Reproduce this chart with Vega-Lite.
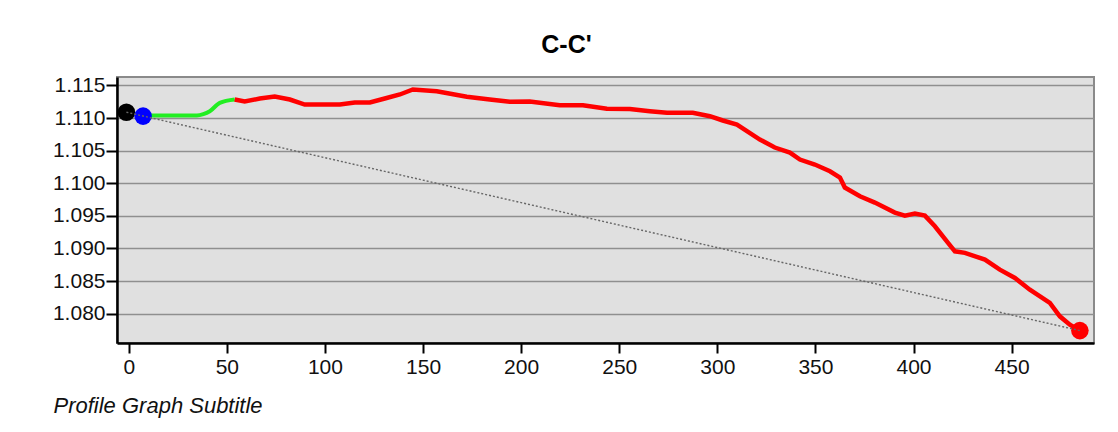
{
  "$schema": "https://vega.github.io/schema/vega-lite/v6.json",
  "autosize": "none",
  "width": 977,
  "height": 266,
  "padding": {"left": 117, "top": 77, "right": 24, "bottom": 89},
  "background": "white",
  "title": {
    "text": "C-C'",
    "font": "Liberation Sans",
    "fontSize": 25,
    "fontWeight": "bold",
    "color": "#000000",
    "anchor": "middle",
    "frame": "group",
    "dx": -39,
    "dy": 25,
    "baseline": "alphabetic",
    "offset": 21
  },
  "config": {
    "view": {"fill": "#E0E0E0", "stroke": "#8a8a8a", "strokeWidth": 2},
    "font": "Liberation Sans"
  },
  "datasets": {
    "profile": [
      {"x": 7.3, "y": 1.1104, "seg": "green"},
      {"x": 20, "y": 1.1104, "seg": "green"},
      {"x": 34.7, "y": 1.1104, "seg": "green"},
      {"x": 38, "y": 1.1106, "seg": "green"},
      {"x": 41.3, "y": 1.11105, "seg": "green"},
      {"x": 46.4, "y": 1.11234, "seg": "green"},
      {"x": 54.0, "y": 1.11285, "seg": "green"},
      {"x": 54.0, "y": 1.11285, "seg": "red"},
      {"x": 59.1, "y": 1.11254, "seg": "red"},
      {"x": 66.8, "y": 1.11300, "seg": "red"},
      {"x": 74.4, "y": 1.11331, "seg": "red"},
      {"x": 82.1, "y": 1.11285, "seg": "red"},
      {"x": 89.7, "y": 1.11208, "seg": "red"},
      {"x": 107.6, "y": 1.11208, "seg": "red"},
      {"x": 115.2, "y": 1.11239, "seg": "red"},
      {"x": 122.9, "y": 1.11239, "seg": "red"},
      {"x": 130.5, "y": 1.11300, "seg": "red"},
      {"x": 138.2, "y": 1.11362, "seg": "red"},
      {"x": 144.8, "y": 1.11439, "seg": "red"},
      {"x": 157.0, "y": 1.11412, "seg": "red"},
      {"x": 172.3, "y": 1.11327, "seg": "red"},
      {"x": 184.0, "y": 1.11285, "seg": "red"},
      {"x": 194.2, "y": 1.11250, "seg": "red"},
      {"x": 204.4, "y": 1.11254, "seg": "red"},
      {"x": 219.7, "y": 1.11198, "seg": "red"},
      {"x": 231.5, "y": 1.11198, "seg": "red"},
      {"x": 243.7, "y": 1.11142, "seg": "red"},
      {"x": 255.4, "y": 1.11139, "seg": "red"},
      {"x": 265.6, "y": 1.11105, "seg": "red"},
      {"x": 274.3, "y": 1.11081, "seg": "red"},
      {"x": 287.5, "y": 1.11081, "seg": "red"},
      {"x": 296.2, "y": 1.11029, "seg": "red"},
      {"x": 302.8, "y": 1.10963, "seg": "red"},
      {"x": 310.0, "y": 1.10901, "seg": "red"},
      {"x": 321.7, "y": 1.10671, "seg": "red"},
      {"x": 329.3, "y": 1.10548, "seg": "red"},
      {"x": 337.0, "y": 1.10471, "seg": "red"},
      {"x": 342.1, "y": 1.10364, "seg": "red"},
      {"x": 349.7, "y": 1.10287, "seg": "red"},
      {"x": 357.4, "y": 1.10184, "seg": "red"},
      {"x": 362.5, "y": 1.10088, "seg": "red"},
      {"x": 365.0, "y": 1.09934, "seg": "red"},
      {"x": 372.7, "y": 1.09801, "seg": "red"},
      {"x": 380.3, "y": 1.09704, "seg": "red"},
      {"x": 390.5, "y": 1.09550, "seg": "red"},
      {"x": 395.6, "y": 1.09504, "seg": "red"},
      {"x": 400.7, "y": 1.09535, "seg": "red"},
      {"x": 405.8, "y": 1.09504, "seg": "red"},
      {"x": 410.9, "y": 1.09340, "seg": "red"},
      {"x": 417.5, "y": 1.09090, "seg": "red"},
      {"x": 421.1, "y": 1.08956, "seg": "red"},
      {"x": 426.2, "y": 1.08932, "seg": "red"},
      {"x": 436.4, "y": 1.08829, "seg": "red"},
      {"x": 444.0, "y": 1.08675, "seg": "red"},
      {"x": 451.7, "y": 1.08548, "seg": "red"},
      {"x": 459.3, "y": 1.08368, "seg": "red"},
      {"x": 469.5, "y": 1.08164, "seg": "red"},
      {"x": 474.6, "y": 1.07959, "seg": "red"},
      {"x": 479.7, "y": 1.07831, "seg": "red"},
      {"x": 484.8, "y": 1.07740, "seg": "red"}
    ],
    "reference": [
      {"x": -1.2, "y": 1.1109},
      {"x": 484.8, "y": 1.0774}
    ],
    "markers": [
      {"x": -1.2, "y": 1.1109, "kind": "start"},
      {"x": 7.3, "y": 1.1103, "kind": "vertex"},
      {"x": 484.8, "y": 1.0774, "kind": "end"}
    ]
  },
  "encoding": {
    "x": {
      "field": "x",
      "type": "quantitative",
      "scale": {"domain": [-6, 492], "nice": false, "zero": false},
      "axis": {
        "values": [0, 50, 100, 150, 200, 250, 300, 350, 400, 450],
        "grid": false,
        "domainColor": "#000000",
        "domainWidth": 2.5,
        "tickColor": "#000000",
        "tickWidth": 2,
        "tickSize": 10,
        "labelFont": "Liberation Sans",
        "labelFontSize": 21,
        "labelColor": "#111111",
        "labelPadding": 3,
        "title": "Profile Graph Subtitle",
        "titleFont": "Liberation Sans",
        "titleFontSize": 22,
        "titleFontStyle": "italic",
        "titleFontWeight": "normal",
        "titleColor": "#111111",
        "titleAnchor": "start",
        "titleAlign": "left",
        "titleBaseline": "alphabetic",
        "titleX": -64,
        "titleY": 69
      }
    },
    "y": {
      "field": "y",
      "type": "quantitative",
      "scale": {"domain": [1.0755, 1.1163], "nice": false, "zero": false},
      "axis": {
        "values": [1.08, 1.085, 1.09, 1.095, 1.1, 1.105, 1.11, 1.115],
        "format": ".3f",
        "grid": true,
        "gridColor": "#8f8f8f",
        "gridWidth": 1.5,
        "domainColor": "#000000",
        "domainWidth": 2.5,
        "tickColor": "#000000",
        "tickWidth": 2,
        "tickSize": 11,
        "labelFont": "Liberation Sans",
        "labelFontSize": 21,
        "labelColor": "#111111",
        "labelPadding": 1,
        "title": null
      }
    }
  },
  "layer": [
    {
      "data": {"name": "profile"},
      "transform": [{"filter": "datum.seg === 'green'"}],
      "mark": {"type": "line", "color": "#22ee22", "strokeWidth": 4, "interpolate": "monotone"}
    },
    {
      "data": {"name": "profile"},
      "transform": [{"filter": "datum.seg === 'red'"}],
      "mark": {"type": "line", "color": "#ff0000", "strokeWidth": 4.5}
    },
    {
      "data": {"name": "markers"},
      "mark": {"type": "circle", "size": 310, "opacity": 1},
      "encoding": {
        "color": {
          "field": "kind",
          "type": "nominal",
          "scale": {"domain": ["start", "vertex", "end"], "range": ["#000000", "#0000ff", "#ff0000"]},
          "legend": null
        }
      }
    },
    {
      "data": {"name": "reference"},
      "mark": {"type": "line", "color": "#666666", "strokeWidth": 1.4, "strokeDash": [2, 2]}
    }
  ]
}
